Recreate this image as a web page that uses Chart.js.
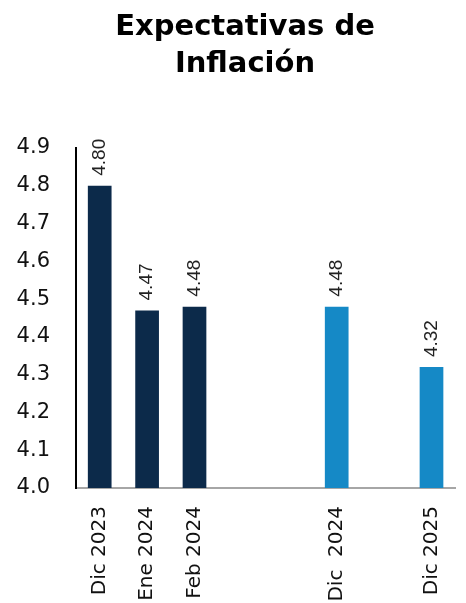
<!DOCTYPE html>
<html>
<head>
<meta charset="utf-8">
<script src="https://cdn.jsdelivr.net/npm/chart.js@4.4.1/dist/chart.umd.min.js"></script>
<style>
  html, body { margin: 0; padding: 0; background: #fff; }
  #wrap { width: 466px; height: 603px; }
</style>
</head>
<body>
<div id="wrap"><canvas id="grafica" width="466" height="603"></canvas></div>
<script>
const titulo = ['Expectativas de', 'Inflación'];
const categorias = ['Dic 2023', 'Ene 2024', 'Feb 2024', '', '', 'Dic  2024', '', 'Dic 2025'];
const valores = [4.80, 4.47, 4.48, null, null, 4.48, null, 4.32];
const colores = ['#0c2a4a', '#0c2a4a', '#0c2a4a', '#0c2a4a', '#0c2a4a', '#1589c6', '#1589c6', '#1589c6'];
const ticksY = [4.0, 4.1, 4.2, 4.3, 4.4, 4.5, 4.6, 4.7, 4.8, 4.9];

const fuente = "'DejaVu Sans', sans-serif";

// titulo centrado un poco a la derecha, como en el original
const tituloPlugin = {
    id: 'tituloPlugin',
    afterDraw(chart) {
        const ctx = chart.ctx;
        ctx.save();
        ctx.fillStyle = '#000';
        ctx.font = "bold 29px 'DejaVu Sans', sans-serif";
        ctx.textAlign = 'center';
        ctx.textBaseline = 'alphabetic';
        titulo.forEach((linea, i) => ctx.fillText(linea, 245, 35 + i * 37));
        ctx.restore();
    }
};

// etiquetas de valor rotadas encima de cada barra
const etiquetasValor = {
    id: 'etiquetasValor',
    afterDatasetsDraw(chart) {
        const ctx = chart.ctx;
        const meta = chart.getDatasetMeta(0);
        ctx.save();
        ctx.fillStyle = '#222';
        ctx.font = "19px 'Liberation Sans', sans-serif";
        ctx.textAlign = 'left';
        ctx.textBaseline = 'middle';
        meta.data.forEach((barra, i) => {
            const v = valores[i];
            if (v === null) return;
            ctx.save();
            ctx.translate(barra.x, barra.y - 10);
            ctx.rotate(-Math.PI / 2);
            ctx.fillText(v.toFixed(2), 0, 0);
            ctx.restore();
        });
        ctx.restore();
    }
};

new Chart(document.getElementById('grafica'), {
    type: 'bar',
    data: {
        labels: categorias,
        datasets: [{
            data: valores,
            backgroundColor: colores,
            barPercentage: 0.5,
            categoryPercentage: 1.0
        }]
    },
    options: {
        responsive: false,
        animation: false,
        layout: { padding: { left: 0, right: 8, top: 148, bottom: 0 } },
        plugins: {
            legend: { display: false },
            tooltip: { enabled: false },
            title: { display: false }
        },
        scales: {
            x: {
                grid: { display: false },
                border: { display: true, color: '#a6a6a6', width: 2 },
                ticks: {
                    color: '#111',
                    font: { family: fuente, size: 20 },
                    maxRotation: 90,
                    minRotation: 90,
                    autoSkip: false,
                    padding: 10
                },
                afterFit(scale) { scale.height = 115; }
            },
            y: {
                min: 4.0,
                max: 4.9,
                grid: { display: false },
                border: { display: true, color: '#000', width: 2 },
                afterBuildTicks(scale) { scale.ticks = ticksY.map(v => ({ value: v })); },
                ticks: {
                    color: '#111',
                    font: { family: fuente, size: 21 },
                    padding: 18,
                    callback: v => v.toFixed(1)
                },
                afterFit(scale) { scale.width = 76; }
            }
        }
    },
    plugins: [etiquetasValor, tituloPlugin]
});
</script>
</body>
</html>
